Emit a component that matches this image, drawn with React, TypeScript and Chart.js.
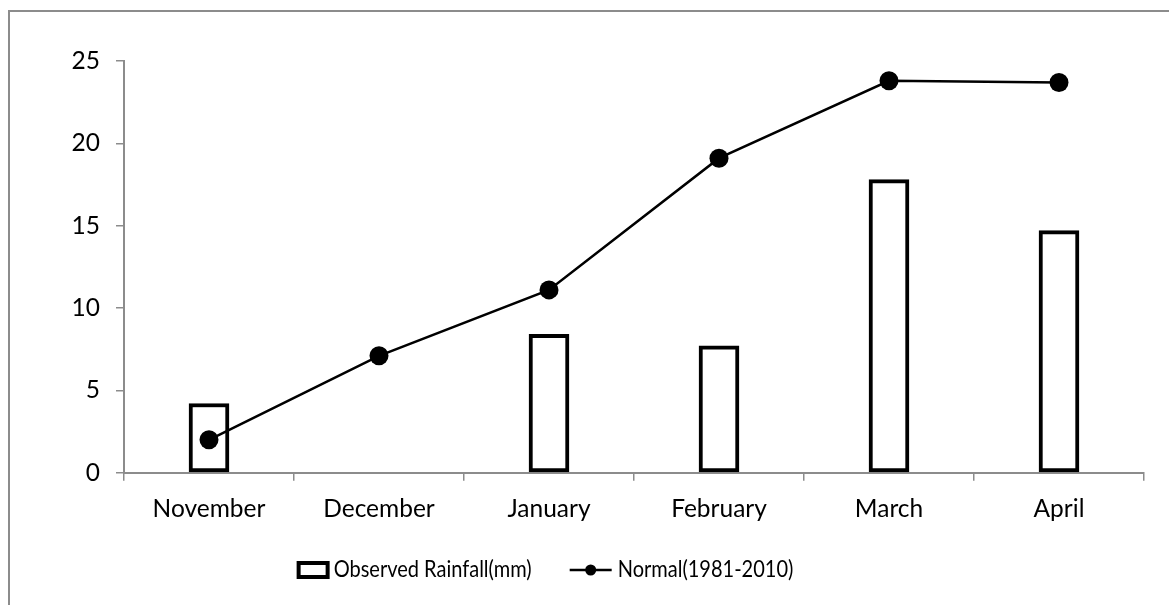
import React, { useEffect, useRef } from "react";
import { Chart, registerables } from "chart.js";

Chart.register(...registerables);

const categories = ["November", "December", "January", "February", "March", "April"];
const observedRainfall = [4.2, null, 8.4, 7.7, 17.8, 14.7];
const normalRainfall = [2.0, 7.1, 11.1, 19.1, 23.8, 23.7];
const yTicks = [0, 5, 10, 15, 20, 25];
const seriesLabels = ["Observed Rainfall(mm)", "Normal(1981-2010)"];

const FONT_FAMILY = "Lato, 'Noto Sans', sans-serif";
const AXIS_FONT_SIZE = 24.5;
const LEGEND_FONT_SIZE = 23;
const LEGEND_SQUEEZE = 0.87;
const AXIS_COLOR = "#8c8c8c";

const frame = {
  id: "frame",
  beforeDraw(chart: any) {
    const ctx = chart.ctx;
    ctx.save();
    ctx.fillStyle = "#ffffff";
    ctx.fillRect(0, 0, chart.width, chart.height);
    ctx.fillStyle = AXIS_COLOR;
    ctx.fillRect(8, 10, 2, chart.height - 10);
    ctx.fillRect(8, 10, chart.width - 8, 2);
    ctx.restore();
  },
};

function drawSqueezed(ctx: any, text: string, x: number, y: number) {
  ctx.save();
  ctx.translate(x, y);
  ctx.scale(LEGEND_SQUEEZE, 1);
  ctx.fillText(text, 0, 0);
  ctx.restore();
}

const customLegend = {
  id: "customLegend",
  afterDraw(chart: any) {
    const ctx = chart.ctx;
    const ds = chart.data.datasets;
    ctx.save();
    ctx.font = `${LEGEND_FONT_SIZE}px ${FONT_FAMILY}`;
    ctx.textBaseline = "middle";
    ctx.fillStyle = "#000";
    const w1 = ctx.measureText(ds[0].label).width * LEGEND_SQUEEZE;
    const w2 = ctx.measureText(ds[1].label).width * LEGEND_SQUEEZE;
    const boxW = 33, boxH = 18, gapA = 4, gapMid = 38, lineW = 42, gapB = 6;
    const total = boxW + gapA + w1 + gapMid + lineW + gapB + w2;
    const cy = 570;
    let x = 545 - total / 2;
    // bar symbol
    ctx.strokeStyle = "#000";
    ctx.lineWidth = 4;
    ctx.strokeRect(x + 2, cy - boxH / 2 + 2, boxW - 4, boxH - 4);
    x += boxW + gapA;
    drawSqueezed(ctx, ds[0].label, x, cy);
    x += w1 + gapMid;
    // line symbol
    ctx.lineWidth = 2.5;
    ctx.beginPath();
    ctx.moveTo(x, cy);
    ctx.lineTo(x + lineW, cy);
    ctx.stroke();
    ctx.beginPath();
    ctx.arc(x + lineW / 2, cy, 5.5, 0, Math.PI * 2);
    ctx.fill();
    x += lineW + gapB;
    drawSqueezed(ctx, ds[1].label, x, cy);
    ctx.restore();
  },
};

export default function App() {
  const ref = useRef<HTMLCanvasElement | null>(null);

  useEffect(() => {
    if (!ref.current) return;
    const chart = new Chart(ref.current, {
      type: "bar",
      data: {
        labels: categories,
        datasets: [
          {
            type: "bar",
            label: seriesLabels[0],
            data: observedRainfall as any,
            backgroundColor: "#ffffff",
            borderColor: "#000000",
            borderWidth: 4,
            borderSkipped: false,
            barThickness: 40,
            order: 1,
          },
          {
            type: "line",
            label: seriesLabels[1],
            data: normalRainfall,
            borderColor: "#000000",
            backgroundColor: "#000000",
            borderWidth: 2.5,
            pointRadius: 9.5,
            pointBorderWidth: 0,
            pointBackgroundColor: "#000000",
            tension: 0,
            order: 0,
          },
        ],
      },
      options: {
        responsive: false,
        animation: false,
        layout: { padding: { left: 0, right: 25, top: 61, bottom: 0 } },
        plugins: {
          legend: { display: false },
          tooltip: { enabled: false },
          title: { display: false },
        },
        scales: {
          x: {
            offset: true,
            grid: {
              offset: true,
              drawOnChartArea: false,
              drawTicks: true,
              tickLength: 8,
              color: AXIS_COLOR,
              lineWidth: 1.5,
            },
            border: { color: AXIS_COLOR, width: 2 },
            ticks: {
              color: "#000",
              padding: 14,
              font: { family: FONT_FAMILY, size: AXIS_FONT_SIZE },
              maxRotation: 0,
            },
            afterFit(scale: any) {
              scale.height = 132.3;
            },
          },
          y: {
            min: 0,
            max: 25,
            afterBuildTicks(scale: any) {
              scale.ticks = yTicks.map((v) => ({ value: v }));
            },
            grid: {
              drawOnChartArea: false,
              drawTicks: true,
              tickLength: 8,
              color: AXIS_COLOR,
              lineWidth: 1.5,
            },
            border: { color: AXIS_COLOR, width: 2 },
            ticks: {
              color: "#000",
              padding: 16,
              font: { family: FONT_FAMILY, size: AXIS_FONT_SIZE },
            },
            afterFit(scale: any) {
              scale.width = 124;
            },
          },
        },
      },
      plugins: [frame, customLegend],
    });
    return () => chart.destroy();
  }, []);

  return (
    <div style={{ position: "fixed", left: 0, top: 0, width: 1169, height: 605, background: "#fff" }}>
      <canvas ref={ref} width={1169} height={605} style={{ display: "block" }} />
    </div>
  );
}
